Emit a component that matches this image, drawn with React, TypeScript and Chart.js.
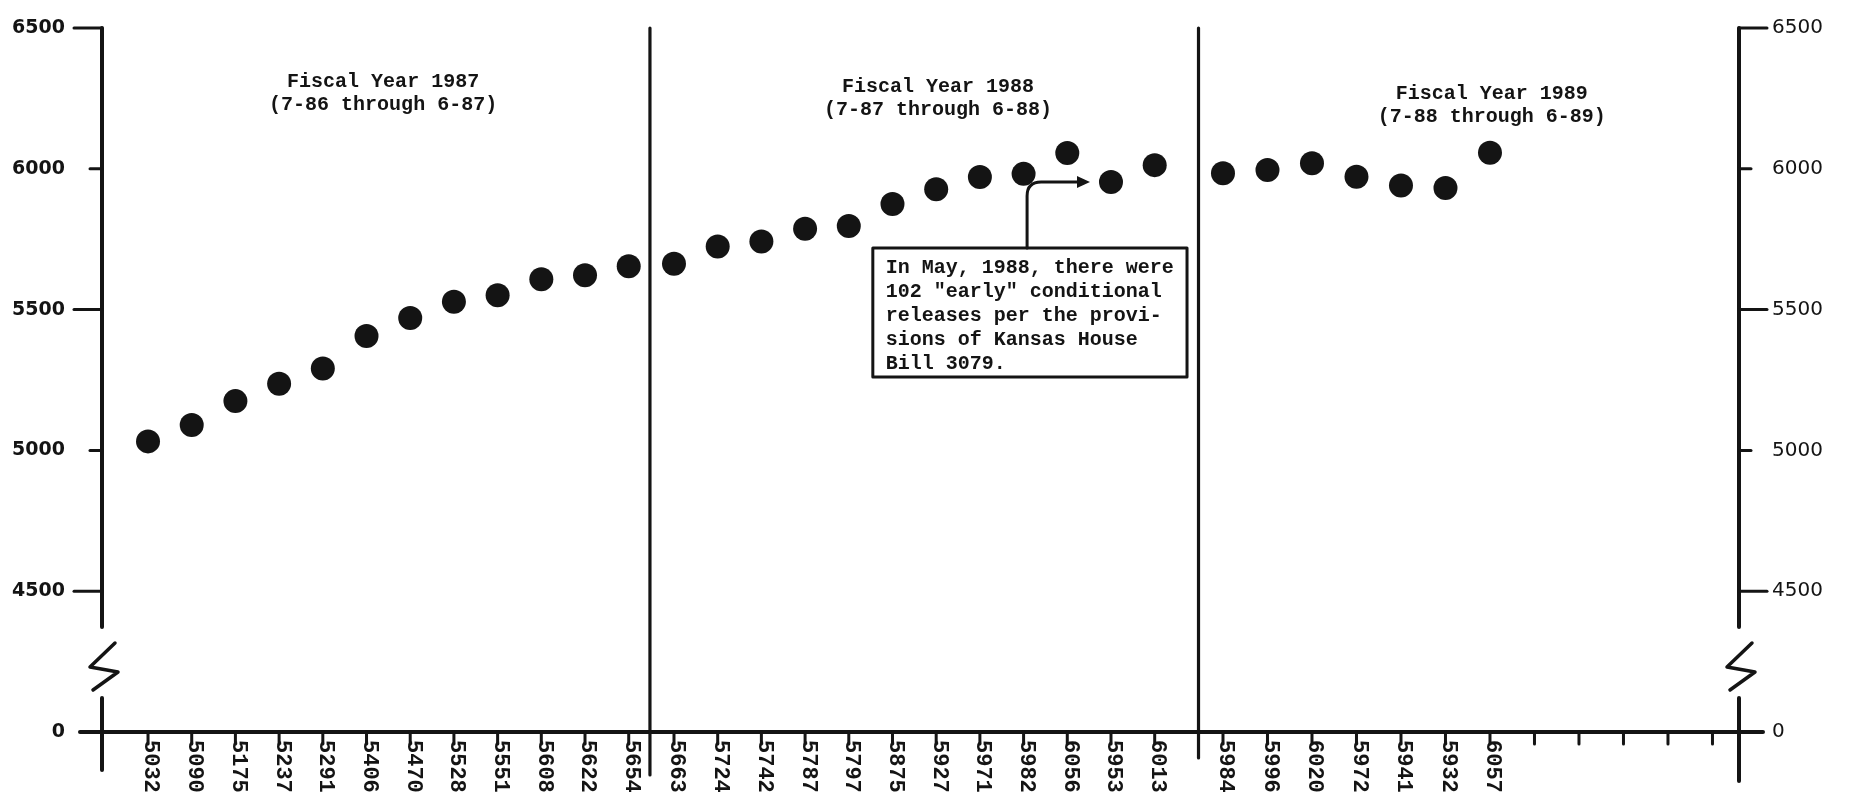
import React, { useEffect, useRef } from "react";
import { Chart, registerables } from "chart.js";

Chart.register(...registerables);

// ---------- data ----------
const fiscalMonths = ["Jul", "Aug", "Sep", "Oct", "Nov", "Dec", "Jan", "Feb", "Mar", "Apr", "May", "Jun"];
const fiscalYearTitles = ["Fiscal Year 1987", "Fiscal Year 1988", "Fiscal Year 1989"];
const fiscalYearRanges = ["(7-86 through 6-87)", "(7-87 through 6-88)", "(7-88 through 6-89)"];
const fy1987 = [5032, 5090, 5175, 5237, 5291, 5406, 5470, 5528, 5551, 5608, 5622, 5654];
const fy1988 = [5663, 5724, 5742, 5787, 5797, 5875, 5927, 5971, 5982, 6056, 5953, 6013];
const fy1989 = [5984, 5996, 6020, 5972, 5941, 5932, 6057];
const yTickValues = [4000, 4500, 5000, 5500, 6000, 6500];
const yTickLabels = ["0", "4500", "5000", "5500", "6000", "6500"];
const noteLines = [
  "In May, 1988, there were",
  "102 \"early\" conditional",
  "releases per the provi-",
  "sions of Kansas House",
  "Bill 3079.",
];

// ---------- layout / style ----------
const W = 1855;
const H = 799;
const INK = "#141414";
const AREA_LEFT = 102;
const AREA_RIGHT = 1739;
const AREA_TOP = 28;
const AREA_BOTTOM = 732;
const X_AXES = [
  { id: "x87", min: -1.053, max: 36.407 },
  { id: "x88", min: -13.089, max: 24.371 },
  { id: "x89", min: -25.191, max: 11.596 },
];
const BREAK = { top: 4373, z1: 4316, z2: 4231, z3: 4213, z4: 4149, bottom: 4121 };
const TITLE_X = [5.38, 6.04, 6.04];
const TITLE_Y = [6308, 6290, 6266];
const DIVIDER_AT = -0.55;
const DIVIDER_EXT = [0, 43, 26];
const NOTE = { axis: 1, left: 4.55, right: 11.74, top: 5719, bottom: 5261, stem: 8.08, target: 10 };

const series = [fy1987, fy1988, fy1989];

function seg(ctx: CanvasRenderingContext2D, x1: number, y1: number, x2: number, y2: number) {
  ctx.beginPath();
  ctx.moveTo(x1, y1);
  ctx.lineTo(x2, y2);
  ctx.stroke();
}

const decorPlugin = {
  id: "decor",
  afterDatasetsDraw(chart: any) {
    const { ctx, chartArea: a, scales } = chart;
    const ys = scales.y;
    const xs = X_AXES.map((d) => scales[d.id]);
    ctx.save();
    ctx.strokeStyle = INK;
    ctx.fillStyle = INK;
    ctx.lineCap = "round";
    ctx.lineJoin = "round";

    // x axis line
    ctx.lineWidth = 4;
    seg(ctx, a.left - 22, a.bottom, a.right + 24, a.bottom);

    // y axes with breaks
    const pTop = ys.getPixelForValue(BREAK.top);
    const pBot = ys.getPixelForValue(BREAK.bottom);
    [
      { x: a.left, ext: 38 },
      { x: a.right, ext: 49 },
    ].forEach(({ x, ext }) => {
      ctx.lineWidth = 4;
      seg(ctx, x, a.top, x, pTop);
      seg(ctx, x, pBot, x, a.bottom + ext);
      ctx.lineWidth = 3.5;
      ctx.beginPath();
      ctx.moveTo(x + 13, ys.getPixelForValue(BREAK.z1));
      ctx.lineTo(x - 12, ys.getPixelForValue(BREAK.z2));
      ctx.lineTo(x + 16, ys.getPixelForValue(BREAK.z3));
      ctx.lineTo(x - 9, ys.getPixelForValue(BREAK.z4));
      ctx.stroke();
    });

    // y tick marks
    ctx.lineWidth = 3;
    yTickValues.forEach((v) => {
      if (v === yTickValues[0]) return;
      const py = ys.getPixelForValue(v);
      const len = v % 1000 === 500 ? 28 : 12;
      seg(ctx, a.left - len, py, a.left, py);
      seg(ctx, a.right, py, a.right + len, py);
    });

    // fiscal-year dividers
    ctx.lineWidth = 3.2;
    for (let k = 1; k < xs.length; k++) {
      const px = xs[k].getPixelForValue(DIVIDER_AT);
      seg(ctx, px, a.top, px, a.bottom + DIVIDER_EXT[k]);
    }

    // x ticks
    ctx.lineWidth = 3;
    xs.forEach((sc) => {
      fiscalMonths.forEach((_, m) => {
        const px = sc.getPixelForValue(m);
        seg(ctx, px, a.bottom, px, a.bottom + 12);
      });
    });

    // rotated value labels
    ctx.font = "bold 22px 'Liberation Mono'";
    ctx.textAlign = "left";
    ctx.textBaseline = "middle";
    series.forEach((vals, k) => {
      vals.forEach((v, m) => {
        const px = xs[k].getPixelForValue(m);
        ctx.save();
        ctx.translate(px + 3, a.bottom + 8);
        ctx.rotate(Math.PI / 2);
        ctx.fillText(String(v), 0, 0);
        ctx.restore();
      });
    });

    // fiscal year titles
    ctx.font = "bold 20px 'Liberation Mono'";
    ctx.textAlign = "center";
    xs.forEach((sc, k) => {
      const cx = sc.getPixelForValue(TITLE_X[k]);
      const cy = ys.getPixelForValue(TITLE_Y[k]);
      ctx.fillText(fiscalYearTitles[k], cx, cy);
      ctx.fillText(fiscalYearRanges[k], cx, cy + 23);
    });

    // annotation box
    const nx = xs[NOTE.axis];
    const bl = nx.getPixelForValue(NOTE.left);
    const br = nx.getPixelForValue(NOTE.right);
    const bt = ys.getPixelForValue(NOTE.top);
    const bb = ys.getPixelForValue(NOTE.bottom);
    ctx.fillStyle = "#fff";
    ctx.fillRect(bl, bt, br - bl, bb - bt);
    ctx.fillStyle = INK;
    ctx.lineWidth = 3;
    ctx.strokeRect(bl, bt, br - bl, bb - bt);
    ctx.font = "bold 20px 'Liberation Mono'";
    ctx.textAlign = "left";
    noteLines.forEach((t, i) => ctx.fillText(t, bl + 13, bt + 20 + i * 24));

    // arrow to May 1988
    const sx = nx.getPixelForValue(NOTE.stem);
    const ty = ys.getPixelForValue(series[NOTE.axis][NOTE.target]);
    const tx = nx.getPixelForValue(NOTE.target) - 21;
    const r = 14;
    ctx.lineWidth = 3;
    ctx.beginPath();
    ctx.moveTo(sx, bt);
    ctx.lineTo(sx, ty + r);
    ctx.quadraticCurveTo(sx, ty, sx + r, ty);
    ctx.lineTo(tx - 8, ty);
    ctx.stroke();
    ctx.beginPath();
    ctx.moveTo(tx, ty);
    ctx.lineTo(tx - 13, ty - 6);
    ctx.lineTo(tx - 13, ty + 6);
    ctx.closePath();
    ctx.fill();

    ctx.restore();
  },
};

export default function App() {
  const ref = useRef<HTMLCanvasElement>(null);

  useEffect(() => {
    document.body.style.margin = "0";
    const canvas = ref.current;
    if (!canvas) return;

    const xScales: any = {};
    X_AXES.forEach((d, k) => {
      const cfg: any = {
        type: "linear",
        position: "bottom",
        min: d.min,
        max: d.max,
        display: k === 0,
        grid: { display: false, drawTicks: false },
        border: { display: false },
        ticks: { display: false },
      };
      if (k === 0) {
        cfg.afterFit = (s: any) => {
          s.height = H - AREA_BOTTOM;
        };
      }
      xScales[d.id] = cfg;
    });

    const yCommon = (position: string, width: number, gap: number, font: any) => ({
      type: "linear",
      position,
      min: yTickValues[0],
      max: yTickValues[yTickValues.length - 1],
      grid: { display: false, drawTicks: true, tickLength: gap },
      border: { display: false },
      afterBuildTicks: (s: any) => {
        s.ticks = yTickValues.map((v) => ({ value: v }));
      },
      ticks: {
        padding: 2,
        color: INK,
        font,
        callback: (v: number) => yTickLabels[yTickValues.indexOf(v)],
      },
      afterFit: (s: any) => {
        s.width = width;
      },
    });

    const chart = new Chart(canvas, {
      type: "scatter",
      data: {
        datasets: series.map((vals, k) => ({
          label: fiscalYearTitles[k],
          data: vals.map((v, m) => ({ x: m, y: v })),
          xAxisID: X_AXES[k].id,
          yAxisID: "y",
          pointRadius: 12,
          pointHoverRadius: 12,
          pointStyle: "circle",
          backgroundColor: INK,
          borderWidth: 0,
          showLine: false,
        })),
      },
      options: {
        animation: false,
        responsive: false,
        devicePixelRatio: 1,
        events: [],
        layout: { autoPadding: false, padding: { top: AREA_TOP, left: 0, right: 0, bottom: 0 } },
        plugins: {
          legend: { display: false },
          tooltip: { enabled: false },
        },
        scales: {
          ...xScales,
          y: yCommon("left", AREA_LEFT, 35, { family: "DejaVu Sans", size: 19, weight: "bold" }),
          y2: yCommon("right", W - AREA_RIGHT, 31, { family: "DejaVu Sans", size: 20 }),
        },
      } as any,
      plugins: [decorPlugin],
    });

    return () => chart.destroy();
  }, []);

  return (
    <div style={{ position: "absolute", left: 0, top: 0, width: W, height: H, background: "#fff" }}>
      <canvas ref={ref} width={W} height={H} style={{ display: "block", width: W, height: H }} />
    </div>
  );
}
